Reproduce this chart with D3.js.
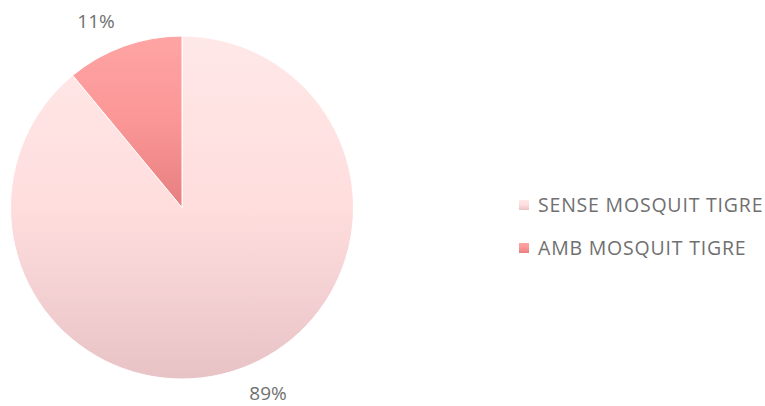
<!DOCTYPE html>
<html>
<head>
<meta charset="utf-8">
<script src="https://cdnjs.cloudflare.com/ajax/libs/d3/7.8.5/d3.min.js"></script>
<style>
  body { margin: 0; background: #fff; }
  text { font-family: "Open Sans", "Liberation Sans", sans-serif; fill: #707070; }
</style>
</head>
<body>
<script>
// chart data
var categories = ["SENSE MOSQUIT TIGRE", "AMB MOSQUIT TIGRE"];
var values = [89, 11];
var pctLabels = ["89%", "11%"];

var width = 765, height = 406;
var cx = 182, cy = 207.5, radius = 171.5;

var svg = d3.select("body").append("svg")
    .attr("width", width)
    .attr("height", height);

// vertical gradients per slice (bounding box of each shape)
var defs = svg.append("defs");
var grads = [
    {id: "g0", stops: ["#ffe8e8", "#ffdddd", "#e8c3c6"]},
    {id: "g1", stops: ["#ffa4a4", "#fb9696", "#e67f80"]}
];
grads.forEach(function(g) {
    var lg = defs.append("linearGradient")
        .attr("id", g.id)
        .attr("x1", 0).attr("y1", 0)
        .attr("x2", 0).attr("y2", 1);
    g.stops.forEach(function(c, k) {
        lg.append("stop").attr("offset", (k * 50) + "%").attr("stop-color", c);
    });
});

var pie = d3.pie().sort(null).value(function(d) { return d; });
var arc = d3.arc().innerRadius(0).outerRadius(radius);

var g = svg.append("g").attr("transform", "translate(" + cx + "," + cy + ")");

var arcs = pie(values);

g.selectAll("path")
    .data(arcs)
    .enter().append("path")
    .attr("d", arc)
    .attr("fill", function(d, i) { return "url(#g" + i + ")"; })
    .attr("stroke", "#fff")
    .attr("stroke-width", 1);

// percent labels outside the pie (best-fit style, nudged a bit counter-clockwise)
var labelR = 205, nudge = -5 * Math.PI / 180;
function labelPos(d) {
    var a = (d.startAngle + d.endAngle) / 2 + nudge;
    return [Math.sin(a) * labelR, -Math.cos(a) * labelR];
}
g.selectAll("text.pct")
    .data(arcs)
    .enter().append("text")
    .attr("class", "pct")
    .attr("x", function(d) { return labelPos(d)[0]; })
    .attr("y", function(d) { return labelPos(d)[1]; })
    .attr("text-anchor", "middle")
    .attr("dy", "0.35em")
    .style("font-size", "19px")
    .text(function(d, i) { return pctLabels[i]; });

// legend
var legend = svg.append("g").attr("transform", "translate(519,200)");
var items = legend.selectAll("g")
    .data(categories)
    .enter().append("g")
    .attr("transform", function(d, i) { return "translate(0," + (i * 43) + ")"; });

items.append("rect")
    .attr("width", 10)
    .attr("height", 10)
    .attr("fill", function(d, i) { return "url(#g" + i + ")"; });

items.append("text")
    .attr("x", 19)
    .attr("y", 5)
    .attr("dy", "0.35em")
    .style("font-size", "19.5px")
    .style("letter-spacing", "0.8px")
    .text(function(d) { return d; });
</script>
</body>
</html>
